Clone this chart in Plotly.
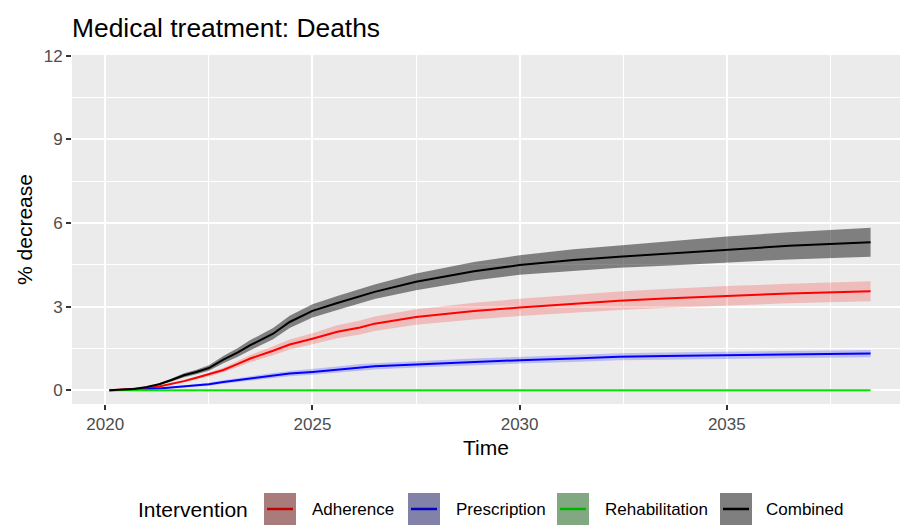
import plotly.graph_objects as go

# ---- data -------------------------------------------------------------
years = [2020.1, 2020.7, 2021.0, 2021.3, 2021.6, 2021.9, 2022.2, 2022.5, 2022.85,
         2023.2, 2023.5, 2024.05, 2024.45, 2025.0, 2025.6, 2026.15, 2026.5, 2027.5,
         2028.9, 2030.0, 2031.3, 2032.4, 2033.5, 2035.0, 2036.5, 2038.47]

adherence = [0, 0.04, 0.08, 0.14, 0.23, 0.33, 0.45, 0.57, 0.73, 0.95, 1.14, 1.42, 1.64,
             1.85, 2.1, 2.25, 2.39, 2.63, 2.84, 2.97, 3.11, 3.21, 3.29, 3.39, 3.47, 3.55]
adherence_lo = [0, 0.035, 0.07, 0.12, 0.2, 0.29, 0.4, 0.5, 0.65, 0.84, 1.01, 1.26, 1.46,
                1.65, 1.87, 2.0, 2.13, 2.35, 2.54, 2.66, 2.79, 2.88, 2.95, 3.04, 3.12, 3.19]
adherence_hi = [0, 0.045, 0.09, 0.16, 0.26, 0.37, 0.5, 0.63, 0.81, 1.06, 1.27, 1.58, 1.82,
                2.05, 2.33, 2.5, 2.65, 2.91, 3.14, 3.28, 3.43, 3.54, 3.63, 3.74, 3.82, 3.91]

prescription = [0, 0.02, 0.04, 0.07, 0.11, 0.15, 0.18, 0.22, 0.3, 0.37, 0.42, 0.53, 0.6,
                0.66, 0.75, 0.83, 0.86, 0.93, 1.02, 1.08, 1.14, 1.2, 1.23, 1.26, 1.29, 1.32]
prescription_lo = [0, 0.015, 0.03, 0.055, 0.085, 0.115, 0.135, 0.165, 0.235, 0.295, 0.34,
                   0.44, 0.505, 0.56, 0.645, 0.72, 0.75, 0.815, 0.9, 0.96, 1.015, 1.075,
                   1.1, 1.13, 1.16, 1.19]
prescription_hi = [0, 0.025, 0.05, 0.085, 0.135, 0.185, 0.225, 0.275, 0.365, 0.445, 0.5,
                   0.62, 0.695, 0.76, 0.855, 0.94, 0.97, 1.045, 1.14, 1.2, 1.265, 1.325,
                   1.36, 1.39, 1.42, 1.45]

rehabilitation = [0] * len(years)
rehabilitation_lo = [0] * len(years)
rehabilitation_hi = [0] * len(years)

combined = [0, 0.05, 0.12, 0.22, 0.37, 0.54, 0.66, 0.8, 1.1, 1.36, 1.62, 2.03, 2.45,
            2.85, 3.13, 3.38, 3.53, 3.89, 4.27, 4.49, 4.67, 4.79, 4.9, 5.05, 5.18, 5.31]
combined_lo = [0, 0.04, 0.1, 0.19, 0.32, 0.47, 0.58, 0.7, 0.97, 1.2, 1.44, 1.83, 2.23,
               2.61, 2.88, 3.12, 3.27, 3.59, 3.94, 4.14, 4.28, 4.39, 4.47, 4.59, 4.69, 4.79]
combined_hi = [0, 0.06, 0.14, 0.25, 0.42, 0.61, 0.74, 0.9, 1.23, 1.52, 1.8, 2.23, 2.67,
               3.09, 3.38, 3.64, 3.79, 4.19, 4.6, 4.84, 5.06, 5.19, 5.33, 5.51, 5.67, 5.83]

series_names = ["Adherence", "Prescription", "Rehabilitation", "Combined"]
x_ticks = [2020, 2025, 2030, 2035]
y_ticks = [0, 3, 6, 9, 12]

# ---- styling ----------------------------------------------------------
FONT = "Liberation Sans, Arial, sans-serif"
series = [
    (adherence, adherence_lo, adherence_hi, "#FF0000", "rgba(255,0,0,0.2)", "#A97C7C", "#C40000"),
    (prescription, prescription_lo, prescription_hi, "#0000FF", "rgba(0,0,255,0.2)", "#8282A8", "#0000C4"),
    (rehabilitation, rehabilitation_lo, rehabilitation_hi, "#00E600", "rgba(0,230,0,0.2)", "#82A882", "#00B400"),
    (combined, combined_lo, combined_hi, "#000000", "rgba(0,0,0,0.46)", "#7F7F7F", "#000000"),
]

W, H = 911, 529
L, R, T, B = 72, 900, 55, 404  # plot panel in pixels

fig = go.Figure()

# confidence ribbons
for vals, lo, hi, col, fill, _, _ in series:
    fig.add_trace(go.Scatter(x=years, y=lo, mode="lines", line=dict(width=0),
                             showlegend=False, hoverinfo="skip"))
    fig.add_trace(go.Scatter(x=years, y=hi, mode="lines", line=dict(width=0),
                             fill="tonexty", fillcolor=fill,
                             showlegend=False, hoverinfo="skip"))

# central estimates
for (vals, lo, hi, col, fill, _, _), name in zip(series, series_names):
    fig.add_trace(go.Scatter(x=years, y=vals, mode="lines", name=name,
                             line=dict(color=col, width=2), showlegend=False))


def px_x(p):
    return (p - L) / (R - L)


def px_y(p):
    return (B - p) / (B - T)


# bottom legend drawn in paper coordinates
key_left = [264, 408, 557, 720]
label_left = [310, 454, 603, 764]
key_top, key_bot = 493, 525
shapes = []
annotations = []
for (vals, lo, hi, col, fill, keyfill, keyline), name, kx, lx in zip(
        series, series_names, key_left, label_left):
    shapes.append(dict(type="rect", xref="paper", yref="paper",
                       x0=px_x(kx), x1=px_x(kx + 32), y0=px_y(key_bot), y1=px_y(key_top),
                       fillcolor=keyfill, line=dict(width=0), layer="above"))
    shapes.append(dict(type="line", xref="paper", yref="paper",
                       x0=px_x(kx + 3), x1=px_x(kx + 29),
                       y0=px_y((key_top + key_bot) / 2), y1=px_y((key_top + key_bot) / 2),
                       line=dict(color=keyline, width=2.5), layer="above"))
    annotations.append(dict(text=name, xref="paper", yref="paper",
                            x=px_x(lx), y=px_y((key_top + key_bot) / 2),
                            xanchor="left", yanchor="middle", showarrow=False,
                            font=dict(family=FONT, size=17, color="#000000")))
annotations.append(dict(text="Intervention", xref="paper", yref="paper",
                        x=px_x(136), y=px_y((key_top + key_bot) / 2),
                        xanchor="left", yanchor="middle", showarrow=False,
                        font=dict(family=FONT, size=21, color="#000000")))

axis_common = dict(
    showgrid=True, gridcolor="#FFFFFF", gridwidth=2,
    zeroline=False, showline=False,
    ticks="outside", ticklen=5, tickwidth=1.5, tickcolor="#333333",
    tickfont=dict(family=FONT, size=17, color="#4D4D4D"),
)

fig.update_layout(
    width=W, height=H,
    margin=dict(l=L, r=W - R, t=T, b=H - B, pad=0),
    paper_bgcolor="#FFFFFF",
    plot_bgcolor="#EBEBEB",
    title=dict(text="Medical treatment: Deaths", x=0, xref="paper", xanchor="left",
               y=1 - 28 / H, yref="container", yanchor="middle",
               font=dict(family=FONT, size=26.4, color="#000000")),
    xaxis=dict(range=[2019.197, 2039.18], tickvals=x_ticks,
               ticktext=[str(v) for v in x_ticks],
               minor=dict(tick0=2020, dtick=2.5, showgrid=True,
                          gridcolor="#FFFFFF", gridwidth=1, ticks=""),
               title=dict(text="Time", standoff=6,
                          font=dict(family=FONT, size=21, color="#000000")),
               **axis_common),
    yaxis=dict(range=[-0.49, 12.02], tickvals=y_ticks,
               ticktext=[str(v) for v in y_ticks],
               minor=dict(tick0=0, dtick=1.5, showgrid=True,
                          gridcolor="#FFFFFF", gridwidth=1, ticks=""),
               title=dict(text="% decrease", standoff=5,
                          font=dict(family=FONT, size=21, color="#000000")),
               **axis_common),
    shapes=shapes,
    annotations=annotations,
    showlegend=False,
)

fig.write_html("out.html")
